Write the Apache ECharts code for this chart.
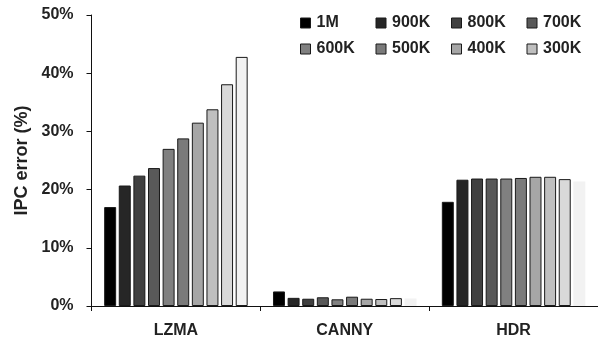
<!DOCTYPE html>
<html>
<head>
<meta charset="utf-8">
<script src="https://cdn.jsdelivr.net/npm/echarts@6/dist/echarts.min.js"></script>
<style>html,body{margin:0;padding:0;background:#fff}#c{width:598px;height:339px}</style>
</head>
<body>
<div id="c"></div>
<script>
const categories = ['LZMA', 'CANNY', 'HDR'];
const seriesNames = ['1M', '900K', '800K', '700K', '600K', '500K', '400K', '300K', '200K', '100K'];
const legendNames = ['1M', '900K', '800K', '700K', '600K', '500K', '400K', '300K'];
const s1M   = [17.0, 2.5, 17.9];
const s900K = [20.7, 1.4, 21.7];
const s800K = [22.4, 1.25, 21.9];
const s700K = [23.7, 1.5, 21.9];
const s600K = [27.0, 1.15, 21.9];
const s500K = [28.8, 1.6, 22.0];
const s400K = [31.5, 1.25, 22.2];
const s300K = [33.8, 1.2, 22.2];
const s200K = [38.1, 1.35, 21.8];
const s100K = [42.8, 1.3, 21.4];
const yTicks = [0, 10, 20, 30, 40, 50];

const allValues = [s1M, s900K, s800K, s700K, s600K, s500K, s400K, s300K, s200K, s100K];
const colors = ['#000000', '#262626', '#404040', '#595959', '#808080', '#7a7a7a', '#a6a6a6', '#bfbfbf', '#d9d9d9', '#f2f2f2'];
const FONT = '"Liberation Sans", Arial, sans-serif';

const series = allValues.map((vals, i) => ({
  name: seriesNames[i],
  type: 'bar',
  barCategoryGap: '15%',
  barGap: '22%',
  itemStyle: { color: colors[i], borderColor: '#1a1a1a', borderWidth: 1 },
  data: vals.map((v, j) => (i === 9 && j > 0) ? { value: v, itemStyle: { borderWidth: 0 } } : v),
  emphasis: { disabled: true },
  animation: false
}));

const chart = echarts.init(document.getElementById('c'), null, { renderer: 'canvas' });
chart.setOption({
  animation: false,
  grid: { left: 91.5, right: 0, top: 15, bottom: 32, containLabel: false },
  legend: {
    data: legendNames,
    left: 300, top: 15, width: 300,
    padding: 0,
    itemWidth: 10, itemHeight: 10, itemGap: 10,
    icon: 'rect',
    itemStyle: { borderColor: '#1a1a1a', borderWidth: 1 },
    textStyle: { fontFamily: FONT, fontWeight: 'bold', fontSize: 16, color: '#222', width: 49, lineHeight: 15, padding: [0, 0, 0, 1] },
    selectedMode: false
  },
  xAxis: {
    type: 'category',
    data: categories,
    axisLine: { lineStyle: { color: '#111', width: 1 } },
    axisTick: { show: true, length: 5, interval: 0, lineStyle: { color: '#111' } },
    axisLabel: { fontFamily: FONT, fontWeight: 'bold', fontSize: 16, color: '#222', margin: 17 }
  },
  yAxis: {
    type: 'value',
    min: yTicks[0], max: yTicks[yTicks.length - 1], interval: 10,
    name: 'IPC error (%)',
    nameLocation: 'middle',
    nameRotate: 90,
    nameGap: 56,
    nameTextStyle: { fontFamily: FONT, fontWeight: 'bold', fontSize: 18, color: '#222' },
    axisLine: { show: true, lineStyle: { color: '#111', width: 1 } },
    axisTick: { show: true, length: 5, lineStyle: { color: '#111' } },
    splitLine: { show: false },
    axisLabel: { fontFamily: FONT, fontWeight: 'bold', fontSize: 16, color: '#222', margin: 18, formatter: '{value}%' }
  },
  series: series
});
</script>
</body>
</html>
